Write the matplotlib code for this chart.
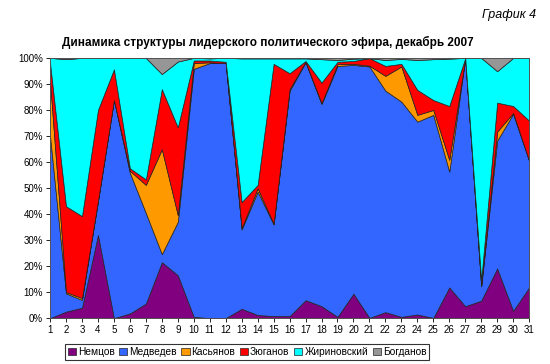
import numpy as np
import matplotlib
matplotlib.use("Agg")
import matplotlib.pyplot as plt

plt.rcParams['font.family'] = ['Liberation Sans', 'DejaVu Sans']

days = list(range(1, 32))
names = ['Немцов', 'Медведев', 'Касьянов', 'Зюганов', 'Жириновский', 'Богданов']
colors = ['#800080', '#3366FF', '#FF9900', '#FF0000', '#00FFFF', '#969696']

# shares by day, %
nemtsov = [0, 2.5, 4, 32, 0, 1.8, 5.6, 21.5, 16.5, 0.5, 0, 0, 3.6, 1.2, 0.8, 0.8,
           6.9, 4.6, 0.5, 9.4, 0.1, 2.3, 0.5, 1.4, 0.1, 11.8, 4.6, 6.7, 19.1, 2.8, 11.8]
medvedev = [70, 7, 3, 13, 83.8, 54, 34.8, 3.1, 20.5, 95.3, 98, 98, 30.5, 47.4, 35.2, 86.6,
            91.4, 77.7, 96.4, 87.9, 96.6, 85.1, 82.7, 74.1, 78, 44.5, 95.2, 5.6, 49.1, 75.7, 48.7]
kasyanov = [21, 0.5, 0.7, 0, 0, 0.8, 10.8, 40.3, 2.6, 2.2, 0.3, 0, 0.5, 1.3, 0.3, 0.6,
            0.2, 0.3, 0.7, 0.4, 0.3, 5.7, 13.5, 2.6, 1.9, 4.5, 0, 0.3, 3.5, 0.3, 0]
zyuganov = [7, 33, 31.5, 35, 11.8, 1, 2.1, 23.1, 33.7, 1, 0.7, 0.5, 10, 1.3, 61.4, 6.1,
            0.3, 7.9, 0.9, 1.1, 2.9, 3.8, 1, 9.6, 3.8, 20.7, 0.1, 2, 11.1, 2.7, 15.4]
zhirinovsky = [2, 56.5, 60.8, 20, 4.4, 42.4, 46.7, 5.8, 25.3, 1, 0.8, 1.5, 55.2, 48.6, 2.1, 5.7,
               1, 9, 0.7, 0.9, 0, 2.3, 1.9, 11.5, 15.7, 18.2, 0.1, 85.4, 12.1, 18.5, 24.1]
bogdanov = [0, 0.5, 0, 0, 0, 0, 0, 6.2, 1.4, 0, 0.2, 0, 0.2, 0.2, 0.2, 0.2,
            0.2, 0.5, 0.8, 0.3, 0.1, 0.8, 0.4, 0.8, 0.5, 0.3, 0, 0, 5.1, 0, 0]

data = np.array([nemtsov, medvedev, kasyanov, zyuganov, zhirinovsky, bogdanov], dtype=float)
# 100% stacked, like the original
data = data / data.sum(axis=0) * 100

fig = plt.figure(figsize=(5.5, 3.64), dpi=100)
ax = fig.add_axes([0.091, 0.126, 0.871, 0.715])

polys = ax.stackplot(days, data, colors=colors, labels=names,
                     edgecolor='#222222', linewidth=0.5)

ax.set_xlim(1, 31)
ax.set_ylim(0, 100)
ax.set_xticks(days)
ax.set_yticks(range(0, 101, 10))
ax.set_yticklabels([f'{v}%' for v in range(0, 101, 10)])
ax.tick_params(labelsize=7, length=3, width=0.6, pad=2)
for s in ax.spines.values():
    s.set_linewidth(0.6)
    s.set_color('#555555')

fig.text(0.487, 0.882, 'Динамика структуры лидерского политического эфира, декабрь 2007',
         ha='center', va='center', fontsize=8.5, fontweight='bold')
fig.text(0.975, 0.96, 'График 4', ha='right', va='center', fontsize=9, style='italic')

leg = fig.legend(loc='center', bbox_to_anchor=(0.449, 0.033), ncol=6, fontsize=7.3,
                 frameon=True, fancybox=False, edgecolor='black', handlelength=0.8,
                 handleheight=0.8, handletextpad=0.2, columnspacing=0.45,
                 borderpad=0.25, borderaxespad=0)
leg.get_frame().set_linewidth(0.8)

fig.savefig('out.png', dpi=100)
